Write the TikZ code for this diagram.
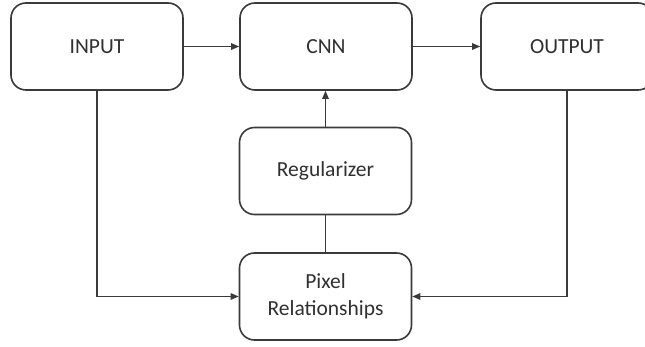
\documentclass[tikz,border=0pt]{standalone}
\usepackage{fontspec}
\setmainfont{Carlito}
\usetikzlibrary{arrows.meta}
\definecolor{edge}{HTML}{3A3A3A}
\definecolor{ink}{HTML}{303030}
\begin{document}
\begin{tikzpicture}[x=1pt,y=-1pt,
  blockbox/.style={draw=edge, line width=1.6pt, rounded corners=15pt,
    minimum width=172pt, minimum height=87pt, inner sep=0pt,
    text=ink, align=center, font=\fontsize{21.5}{27}\selectfont},
  link/.style={draw=edge, line width=1.3pt},
  arr/.style={link, -{Triangle[length=8pt,width=6.5pt]}}]
  \clip (0,0) rectangle (645,347);
  \fill[white] (0,0) rectangle (645,347);

  \node[blockbox] (in)  at (97,46.5)    {INPUT};
  \node[blockbox] (cnn) at (326,46.5)   {CNN};
  \node[blockbox] (out) at (567,46.5)   {OUTPUT};
  \node[blockbox] (reg) at (325.5,171)  {Regularizer};
  \node[blockbox] (pix) at (325.5,296.5) {Pixel\\Relationships};

  \draw[arr] (in.east) -- (cnn.west);
  \draw[arr] (cnn.east) -- (out.west);
  \draw[arr] (reg.north) -- (reg.north |- cnn.south);
  \draw[link] (pix.north) -- (reg.south);
  \draw[arr] (in.south) |- (pix.west);
  \draw[arr] (out.south) |- (pix.east);
\end{tikzpicture}
\end{document}
